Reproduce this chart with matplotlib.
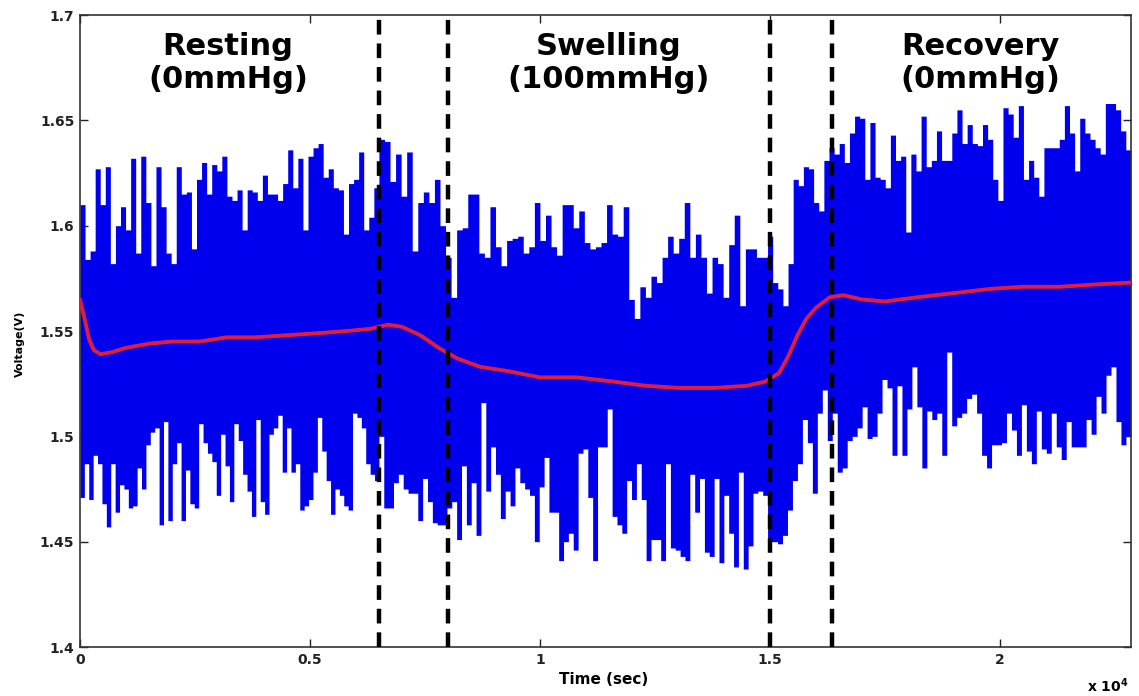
import numpy as np
import matplotlib
matplotlib.use("Agg")
import matplotlib.pyplot as plt
from matplotlib import ticker

BLUE = "#0000ee"
RED = "#e01e3c"

# phase limits (s): resting, swelling, recovery
PHASES = [(0, 6500), (6500, 14950), (14950, 22850)]
MARKERS = [6500, 8000, 15000, 16350]

# upper / lower envelope of the raw trace, one list per phase
upper_resting = [
    1.610, 1.584, 1.588, 1.627, 1.610, 1.628, 1.582, 1.600, 1.609, 1.598,
    1.632, 1.587, 1.633, 1.611, 1.581, 1.628, 1.609, 1.587, 1.582, 1.628,
    1.615, 1.616, 1.589, 1.622, 1.630, 1.615, 1.629, 1.626, 1.633, 1.614,
    1.612, 1.617, 1.598, 1.617, 1.616, 1.612, 1.624, 1.615, 1.615, 1.612,
    1.620, 1.636, 1.618, 1.632, 1.598, 1.633, 1.637, 1.639, 1.623, 1.627,
    1.618, 1.617, 1.596, 1.620, 1.622, 1.635, 1.598, 1.604, 1.618,
]
upper_swelling = [
    1.641, 1.640, 1.621, 1.634, 1.614, 1.635, 1.588, 1.611, 1.616, 1.611,
    1.622, 1.600, 1.585, 1.566, 1.598, 1.599, 1.615, 1.615, 1.587, 1.585,
    1.609, 1.590, 1.581, 1.593, 1.594, 1.595, 1.587, 1.590, 1.611, 1.593,
    1.605, 1.590, 1.586, 1.610, 1.610, 1.599, 1.607, 1.592, 1.589, 1.590,
    1.592, 1.610, 1.596, 1.595, 1.609, 1.565, 1.556, 1.571, 1.566, 1.576,
    1.573, 1.585, 1.595, 1.587, 1.594, 1.611, 1.585, 1.596, 1.585, 1.568,
    1.585, 1.582, 1.566, 1.591, 1.605, 1.562, 1.589, 1.589, 1.585, 1.585,
]
upper_recovery = [
    1.595, 1.573, 1.570, 1.562, 1.582, 1.622, 1.619, 1.628, 1.627, 1.611,
    1.607, 1.631, 1.637, 1.634, 1.639, 1.630, 1.644, 1.652, 1.651, 1.622,
    1.649, 1.623, 1.622, 1.618, 1.643, 1.631, 1.633, 1.597, 1.634, 1.626,
    1.652, 1.628, 1.631, 1.645, 1.631, 1.631, 1.644, 1.655, 1.639, 1.648,
    1.639, 1.638, 1.648, 1.641, 1.622, 1.612, 1.656, 1.653, 1.642, 1.657,
    1.622, 1.631, 1.623, 1.614, 1.637, 1.637, 1.637, 1.641, 1.657, 1.644,
    1.626, 1.651, 1.644, 1.641, 1.637, 1.634, 1.658, 1.658, 1.655, 1.645,
    1.636,
]
lower_resting = [
    1.471, 1.487, 1.470, 1.491, 1.487, 1.468, 1.457, 1.487, 1.464, 1.477,
    1.475, 1.466, 1.467, 1.485, 1.475, 1.496, 1.502, 1.504, 1.458, 1.507,
    1.460, 1.487, 1.497, 1.460, 1.484, 1.468, 1.466, 1.506, 1.497, 1.492,
    1.488, 1.472, 1.501, 1.486, 1.469, 1.506, 1.498, 1.482, 1.474, 1.462,
    1.508, 1.469, 1.463, 1.501, 1.504, 1.510, 1.483, 1.504, 1.483, 1.487,
    1.465, 1.467, 1.470, 1.483, 1.509, 1.493, 1.479, 1.463, 1.475, 1.472,
    1.467, 1.465, 1.511, 1.509, 1.504, 1.487, 1.482, 1.479,
]
lower_swelling = [
    1.500, 1.466, 1.466, 1.478, 1.482, 1.475, 1.473, 1.473, 1.460, 1.480,
    1.469, 1.459, 1.458, 1.458, 1.466, 1.469, 1.451, 1.486, 1.458, 1.478,
    1.453, 1.516, 1.474, 1.495, 1.482, 1.461, 1.474, 1.467, 1.485, 1.478,
    1.475, 1.472, 1.450, 1.476, 1.490, 1.464, 1.464, 1.441, 1.450, 1.454,
    1.446, 1.492, 1.494, 1.471, 1.441, 1.495, 1.495, 1.513, 1.462, 1.458,
    1.454, 1.479, 1.470, 1.487, 1.470, 1.441, 1.451, 1.451, 1.441, 1.487,
    1.447, 1.446, 1.443, 1.441, 1.482, 1.464, 1.480, 1.445, 1.443, 1.480,
    1.440, 1.472, 1.454, 1.438, 1.483, 1.437, 1.448, 1.473, 1.474, 1.472,
]
lower_recovery = [
    1.450, 1.450, 1.449, 1.453, 1.465, 1.479, 1.487, 1.508, 1.497, 1.473,
    1.511, 1.522, 1.498, 1.511, 1.483, 1.485, 1.498, 1.500, 1.504, 1.514,
    1.499, 1.500, 1.511, 1.527, 1.523, 1.491, 1.524, 1.491, 1.513, 1.533,
    1.514, 1.485, 1.512, 1.508, 1.511, 1.491, 1.540, 1.505, 1.509, 1.511,
    1.518, 1.520, 1.511, 1.491, 1.485, 1.496, 1.496, 1.497, 1.511, 1.503,
    1.491, 1.515, 1.493, 1.487, 1.512, 1.494, 1.492, 1.511, 1.495, 1.489,
    1.507, 1.495, 1.495, 1.495, 1.508, 1.501, 1.519, 1.511, 1.529, 1.533,
    1.507, 1.496, 1.500,
]

# smoothed trend
trend_t = [0, 100, 200, 300, 450, 700, 1000, 1500, 2000, 2600, 3200, 3800,
           4500, 5200, 5800, 6300, 6700, 7000, 7400, 7800, 8200, 8700, 9300,
           10000, 10800, 11600, 12300, 13000, 13800, 14500, 14900, 15200,
           15400, 15600, 15800, 16000, 16300, 16600, 17000, 17500, 18200,
           19000, 19800, 20500, 21300, 22000, 22850]
trend_v = [1.565, 1.556, 1.546, 1.541, 1.539, 1.540, 1.542, 1.544, 1.545,
           1.545, 1.547, 1.547, 1.548, 1.549, 1.550, 1.551, 1.553, 1.552,
           1.548, 1.542, 1.537, 1.533, 1.531, 1.528, 1.528, 1.526, 1.524,
           1.523, 1.523, 1.524, 1.526, 1.530, 1.538, 1.548, 1.556, 1.561,
           1.566, 1.567, 1.565, 1.564, 1.566, 1.568, 1.570, 1.571, 1.571,
           1.572, 1.573]

phase_labels = [("Resting", "(0mmHg)", 3220),
                ("Swelling", "(100mmHg)", 11500),
                ("Recovery", "(0mmHg)", 19580)]


def as_steps(chunks):
    ts, vs = [], []
    for (t0, t1), vals in zip(PHASES, chunks):
        ts.extend(np.linspace(t0, t1, len(vals) + 1)[:-1])
        vs.extend(vals)
    ts.append(PHASES[-1][1])
    vs.append(vs[-1])
    return np.array(ts), np.array(vs)


t_hi, v_hi = as_steps([upper_resting, upper_swelling, upper_recovery])
t_lo, v_lo = as_steps([lower_resting, lower_swelling, lower_recovery])
t = np.union1d(t_hi, t_lo)
hi = v_hi[np.searchsorted(t_hi, t, side="right") - 1]
lo = v_lo[np.searchsorted(t_lo, t, side="right") - 1]

plt.rcParams["font.family"] = "DejaVu Sans"
plt.rcParams["font.weight"] = "bold"

fig = plt.figure(figsize=(11.39, 6.96), dpi=100)
ax = fig.add_axes([0.0702, 0.0704, 0.9227, 0.908])

ax.fill_between(t, lo, hi, step="post", color=BLUE, lw=0, zorder=2)
ax.plot(trend_t, trend_v, color=RED, lw=2.8, solid_capstyle="round", zorder=3)

for x in MARKERS:
    ax.axvline(x, color="black", lw=3.2, ls=(0, (3.3, 2.0)), zorder=4)

for top, bottom, x in phase_labels:
    ax.text(x, 1.681, top, ha="center", va="baseline", fontsize=22,
            fontweight="bold", zorder=5)
    ax.text(x, 1.6655, bottom, ha="center", va="baseline", fontsize=22,
            fontweight="bold", zorder=5)

ax.set_xlim(0, 22850)
ax.set_ylim(1.4, 1.7)
ax.set_xticks([0, 5000, 10000, 15000, 20000])
ax.xaxis.set_major_formatter(ticker.FuncFormatter(lambda v, _: "%g" % (v / 1e4)))
ax.set_yticks([1.4, 1.45, 1.5, 1.55, 1.6, 1.65, 1.7])
ax.yaxis.set_major_formatter(ticker.FormatStrFormatter("%g"))
ax.tick_params(direction="in", length=6, width=1, top=True, right=True,
               labelsize=10, pad=4, colors="#222222")
for lab in ax.get_xticklabels() + ax.get_yticklabels():
    lab.set_fontweight("bold")
for s in ax.spines.values():
    s.set_linewidth(1.2)
    s.set_color("#333333")

fig.text(604 / 1139, 1 - 679 / 696, "Time (sec)", ha="center", va="center",
         fontsize=11, fontweight="bold")
fig.text(20 / 1139, 1 - 344 / 696, "Voltage(V)", ha="center", va="center",
         rotation=90, fontsize=8, fontweight="bold")
fig.text(1108 / 1139, 1 - 686 / 696, r"x 10$^{\mathbf{4}}$", ha="center",
         va="center", fontsize=10, fontweight="bold")

fig.savefig("out.png", dpi=100)
